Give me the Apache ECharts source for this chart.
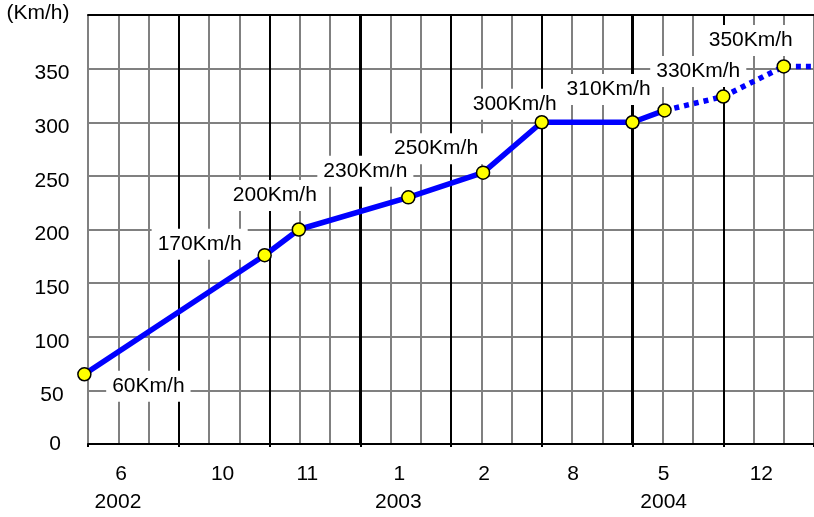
<!DOCTYPE html>
<html><head><meta charset="utf-8">
<script src="https://cdn.jsdelivr.net/npm/echarts@6/dist/echarts.min.js"></script>
<style>html,body{margin:0;padding:0;background:#fff}#c{width:814px;height:517px}</style>
</head><body><div id="c"></div><script>
// ---- data ----
const xPos = [-0.12, 5.84, 6.97, 10.59, 13.06, 15, 18, 19.06, 21, 23, 24];
const speeds = [65, 176, 200, 230, 253, 300, 300, 311, 324, 352, 352];
const speedLabels = ['60Km/h','170Km/h','200Km/h','230Km/h','250Km/h','300Km/h','','310Km/h','330Km/h','350Km/h',''];
const monthLabels = ['6','10','11','1','2','8','5','12'];
const monthPos = [1.09, 4.45, 7.25, 10.29, 13.09, 16.04, 19.03, 22.26];
const yearLabels = ['2002','2003','2004'];
const yearPos = [0.99, 10.26, 19.03];
const unitLabel = '(Km/h)';
const solidCount = 8;      // points 0..7 solid
const markerCount = 10;    // points 0..9 have markers

// ---- style (label offsets in px relative to each point) ----
const labelOffsets = [[64,12],[-65,-11],[-24,-34],[-43,-26],[-47,-24],[-27,-18],[0,0],[-56,-21],[-25,-25],[-33,-26],[0,0]];
const FONT = '"Liberation Sans", Arial, sans-serif';
const FS = 21;

const pts = xPos.map((x,i)=>[x, speeds[i]]);
const solidData = pts.slice(0, solidCount);
const dashData = pts.slice(solidCount-1);
const markerData = pts.slice(0, markerCount);
const annData = pts.map((p,i)=>({
  value: p,
  label: {show: speedLabels[i] !== '', formatter: speedLabels[i], offset: labelOffsets[i]}
}));

const base = {type:'value', min:0, max:24, position:'bottom',
  axisLine:{show:false}, axisTick:{show:false}, axisLabel:{show:false}, splitLine:{show:false}};

const chart = echarts.init(document.getElementById('c'), null, {renderer:'canvas'});
chart.setOption({
  animation:false,
  backgroundColor:'#fff',
  textStyle:{fontFamily:FONT},
  grid:{left:88, top:15, width:728, height:429, containLabel:false},
  xAxis:[
    Object.assign({}, base, {interval:1, z:0,
      axisLine:{show:true, onZero:false, lineStyle:{color:'#000', width:2}},
      splitLine:{show:true, lineStyle:{color:'#808080', width:2}}}),
    Object.assign({}, base, {interval:3, z:1,
      axisTick:{show:true, length:3, lineStyle:{color:'#000', width:2}},
      splitLine:{show:true, showMinLine:false, showMaxLine:false, lineStyle:{color:'#000', width:2}}}),
    Object.assign({}, base, {interval:9, z:1,
      splitLine:{show:true, showMinLine:false, showMaxLine:false, lineStyle:{color:'#000', width:3}}}),
    Object.assign({}, base, {position:'top', z:1,
      axisLine:{show:true, onZero:false, lineStyle:{color:'#000', width:2}}}),
    Object.assign({}, base, {
      axisLabel:{show:true, customValues:monthPos, margin:20, fontSize:FS, color:'#000', fontFamily:FONT,
        formatter:v=>monthLabels[monthPos.indexOf(v)] ?? ''}}),
    Object.assign({}, base, {
      axisLabel:{show:true, customValues:yearPos, margin:48, fontSize:FS, color:'#000', fontFamily:FONT,
        formatter:v=>yearLabels[yearPos.indexOf(v)] ?? ''}})
  ],
  yAxis:{type:'value', min:0, max:400, interval:50, z:0,
    axisLine:{show:false}, axisTick:{show:false},
    splitLine:{show:true, showMinLine:false, showMaxLine:false, lineStyle:{color:'#808080', width:2}},
    axisLabel:{show:true, align:'center', margin:36, fontSize:FS, color:'#000', fontFamily:FONT,
      formatter:v=> v===400 ? '{u|'+unitLabel+'}' : (v===0 ? '{z|0}' : '{n|'+v+'}'),
      rich:{
        n:{fontSize:FS, color:'#000', fontFamily:FONT, padding:[10,0,0,0]},
        z:{fontSize:FS, color:'#000', fontFamily:FONT, padding:[0,0,0,6]},
        u:{fontSize:FS, color:'#000', fontFamily:FONT, padding:[0,28,4,0]}
      }}
  },
  series:[
    {type:'scatter', name:'labels', z:3, xAxisIndex:0, clip:false, symbolSize:0, silent:true,
      itemStyle:{opacity:1},
      data:annData,
      label:{show:true, position:'inside', fontSize:FS, lineHeight:15, color:'#000', fontFamily:FONT, opacity:1,
        backgroundColor:'#ffffff', padding:[13,6,3,6]}},
    {type:'line', name:'solid', z:4, xAxisIndex:0, clip:false, data:solidData, showSymbol:false, symbol:'none',
      lineStyle:{color:'#0000ff', width:5.5}},
    {type:'line', name:'dash', z:4, xAxisIndex:0, clip:false, data:dashData, showSymbol:false, symbol:'none',
      lineStyle:{color:'#0000ff', width:5.5, type:[5,5], cap:'butt'}},
    {type:'scatter', name:'markers', z:5, xAxisIndex:0, clip:false, data:markerData, symbol:'circle', symbolSize:13,
      itemStyle:{color:'#ffff00', borderColor:'#000', borderWidth:1.5, opacity:1}}
  ]
});
</script></body></html>
